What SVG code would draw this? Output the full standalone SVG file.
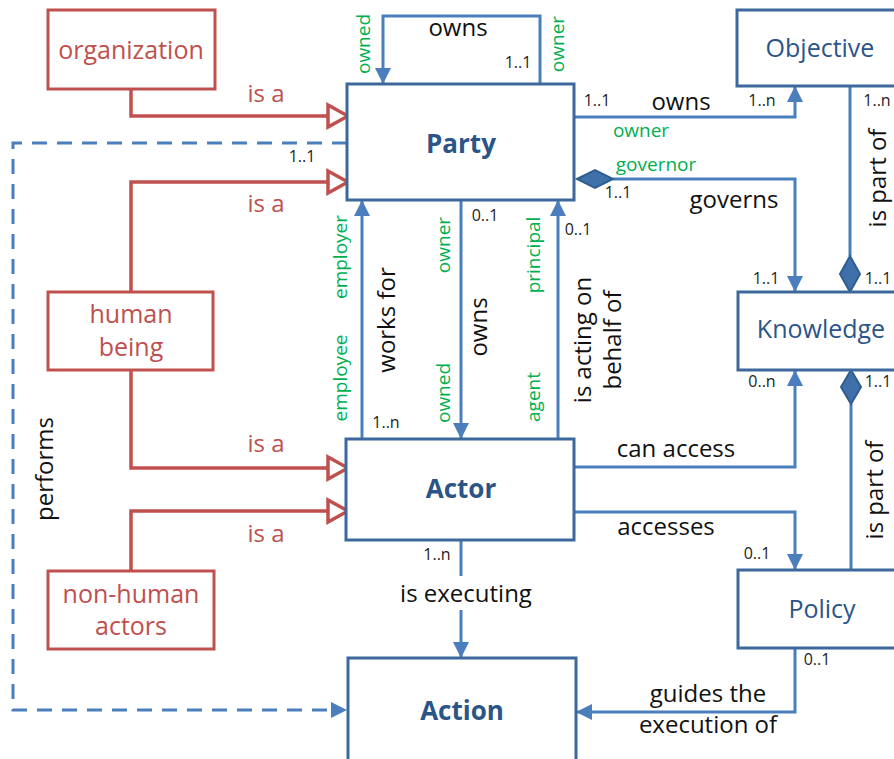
<svg xmlns="http://www.w3.org/2000/svg" width="894" height="759" viewBox="0 0 894 759">
  <style>
    text { font-family: "Open Sans", "Noto Sans", "Liberation Sans", sans-serif; }
    .box { fill: #ffffff; stroke: #3d689c; stroke-width: 3; }
    .rbox { fill: #ffffff; stroke: #c0504d; stroke-width: 3; }
    .ntext { fill: #2b5587; font-size: 25px; text-anchor: middle; }
    .bold { font-weight: bold; font-size: 26px; }
    .rtext { fill: #c0504d; font-size: 24px; text-anchor: middle; }
    .link { fill: none; stroke: #4a7ebd; stroke-width: 3; }
    .arrow { fill: none; stroke: #4a7ebd; stroke-width: 3; marker-end: url(#tip); }
    .dash { fill: none; stroke: #4a7ebd; stroke-width: 3; stroke-dasharray: 15 10; }
    .isa { fill: none; stroke: #c0504d; stroke-width: 3.5; marker-end: url(#hollow); }
    .diamond { fill: #3f70aa; stroke: #2f5d92; stroke-width: 2; }
    .lbl { fill: #111111; font-size: 24px; text-anchor: middle; }
    .mult { fill: #222222; font-size: 16px; text-anchor: middle; }
    .role { fill: #00b050; font-size: 19px; text-anchor: middle; }
    .rot { dominant-baseline: central; }
    .gap { fill: #ffffff; }
  </style>
  <defs>
    <marker id="tip" markerUnits="userSpaceOnUse" viewBox="0 0 16 16" refX="16" refY="8" markerWidth="16" markerHeight="16" orient="auto">
      <path d="M0,0 L16,8 L0,16 Z" fill="#4a7ebd"/>
    </marker>
    <marker id="hollow" markerUnits="userSpaceOnUse" viewBox="-3 -3 26 28" refX="19" refY="11" markerWidth="26" markerHeight="28" orient="auto">
      <path d="M0,0 L20,11 L0,22 Z" fill="#ffffff" stroke="#c0504d" stroke-width="3.5" stroke-linejoin="miter"/>
    </marker>
  </defs>

  <!-- relationships -->
  <g id="connectors">
    <!-- Party owns Party -->
    <path class="arrow" d="M540,84 V16 H383 V84"/>
    <!-- generalisations -->
    <path class="isa" d="M131,89 V116 H347"/>
    <path class="isa" d="M131,292 V182 H347"/>
    <path class="isa" d="M131,370 V468 H347"/>
    <path class="isa" d="M131,571 V511 H347"/>
    <!-- performs -->
    <path class="dash" d="M347,143 H13 V710 H330"/>
    <path d="M331,702 L347,710 L331,718 Z" fill="#4a7ebd"/>
    <!-- Party owns Objective -->
    <path class="arrow" d="M574,117 H795 V86"/>
    <!-- Party governs Knowledge -->
    <path class="arrow" d="M613,179 H795 V292"/>
    <polygon class="diamond" points="577,179 595,170 613,179 595,188"/>
    <!-- Knowledge is part of Objective -->
    <path class="link" d="M850,86 V256"/>
    <polygon class="diamond" points="850,256 860,274 850,292 840,274"/>
    <!-- Policy is part of Knowledge -->
    <path class="link" d="M851,404 V570"/>
    <polygon class="diamond" points="851,370 861,387 851,404 841,387"/>
    <!-- Actor works for Party -->
    <path class="arrow" d="M362,439 V200"/>
    <!-- Party owns Actor -->
    <path class="arrow" d="M461,200 V439"/>
    <!-- Actor acting on behalf of Party -->
    <path class="arrow" d="M558,439 V200"/>
    <!-- Actor can access Knowledge -->
    <path class="arrow" d="M574,467 H795 V370"/>
    <!-- Actor accesses Policy -->
    <path class="arrow" d="M574,512 H795 V570"/>
    <!-- Actor is executing Action -->
    <path class="arrow" d="M461,540 V658"/>
    <!-- Policy guides Action -->
    <path class="arrow" d="M795,648 V712 H576"/>
  </g>

  <!-- connector labels -->
  <g id="labels">
    <text class="lbl" x="458" y="36">owns</text>
    <text class="mult" x="518" y="68">1..1</text>
    <text class="role rot" transform="translate(363,44) rotate(-90)">owned</text>
    <text class="role rot" transform="translate(557,44) rotate(-90)">owner</text>

    <text class="rtext" x="266" y="102">is a</text>
    <text class="rtext" x="266" y="212">is a</text>
    <text class="rtext" x="266" y="452">is a</text>
    <text class="rtext" x="266" y="542">is a</text>

    <text class="mult" x="302" y="162">1..1</text>
    <text class="lbl rot" transform="translate(43,469) rotate(-90)">performs</text>

    <text class="mult" x="597" y="106">1..1</text>
    <text class="lbl" x="681" y="110">owns</text>
    <text class="mult" x="762" y="106">1..n</text>
    <text class="role" x="641" y="137">owner</text>
    <text class="role" x="656" y="171">governor</text>
    <text class="mult" x="618" y="198">1..1</text>
    <text class="lbl" x="734" y="208">governs</text>
    <text class="mult" x="766" y="284">1..1</text>

    <text class="mult" x="877" y="106">1..n</text>
    <text class="lbl rot" transform="translate(876,178) rotate(-90)">is part of</text>
    <text class="mult" x="878" y="284">1..1</text>
    <text class="mult" x="878" y="387">1..1</text>
    <text class="lbl rot" transform="translate(873,490) rotate(-90)">is part of</text>

    <text class="role rot" transform="translate(340,257) rotate(-90)">employer</text>
    <text class="role rot" transform="translate(340,378) rotate(-90)">employee</text>
    <text class="lbl rot" transform="translate(385,320) rotate(-90)">works for</text>
    <text class="mult" x="386" y="428">1..n</text>

    <text class="mult" x="485" y="221">0..1</text>
    <text class="role rot" transform="translate(443,245) rotate(-90)">owner</text>
    <text class="lbl rot" transform="translate(477,327) rotate(-90)">owns</text>
    <text class="role rot" transform="translate(443,393) rotate(-90)">owned</text>

    <text class="mult" x="578" y="235">0..1</text>
    <text class="role rot" transform="translate(533,255) rotate(-90)">principal</text>
    <text class="role rot" transform="translate(533,397) rotate(-90)">agent</text>
    <text class="lbl rot" transform="translate(581,340) rotate(-90)">is acting on</text>
    <text class="lbl rot" transform="translate(611,340) rotate(-90)">behalf of</text>

    <text class="lbl" x="676" y="457">can access</text>
    <text class="mult" x="762" y="387">0..n</text>
    <text class="lbl" x="666" y="535">accesses</text>
    <text class="mult" x="757" y="559">0..1</text>

    <text class="mult" x="437" y="560">1..n</text>
    <rect class="gap" x="393" y="576" width="147" height="34"/>
    <text class="lbl" x="466" y="602">is executing</text>

    <text class="mult" x="817" y="665">0..1</text>
    <text class="lbl" x="708" y="702">guides the</text>
    <text class="lbl" x="708" y="733">execution of</text>
  </g>

  <!-- classes -->
  <g id="organization">
    <rect class="rbox" x="48" y="10" width="167" height="79"/>
    <text class="rtext" x="131" y="59" style="font-size:25px">organization</text>
  </g>
  <g id="human-being">
    <rect class="rbox" x="48" y="292" width="165" height="78"/>
    <text class="rtext" x="131" y="323" style="font-size:25px">human</text>
    <text class="rtext" x="131" y="356" style="font-size:25px">being</text>
  </g>
  <g id="non-human-actors">
    <rect class="rbox" x="48" y="571" width="166" height="78"/>
    <text class="rtext" x="131" y="603" style="font-size:25px">non-human</text>
    <text class="rtext" x="131" y="635" style="font-size:25px">actors</text>
  </g>
  <g id="party">
    <rect class="box" x="347" y="84" width="227" height="116"/>
    <text class="ntext bold" x="461" y="153">Party</text>
  </g>
  <g id="actor">
    <rect class="box" x="346" y="439" width="228" height="101"/>
    <text class="ntext bold" x="461" y="498">Actor</text>
  </g>
  <g id="action">
    <rect class="box" x="348" y="658" width="228" height="120"/>
    <text class="ntext bold" x="462" y="720">Action</text>
  </g>
  <g id="objective">
    <rect class="box" x="737" y="10" width="180" height="76"/>
    <text class="ntext" x="820" y="57">Objective</text>
  </g>
  <g id="knowledge">
    <rect class="box" x="738" y="292" width="180" height="78"/>
    <text class="ntext" x="821" y="338">Knowledge</text>
  </g>
  <g id="policy">
    <rect class="box" x="738" y="570" width="180" height="78"/>
    <text class="ntext" x="822" y="618">Policy</text>
  </g>
</svg>
